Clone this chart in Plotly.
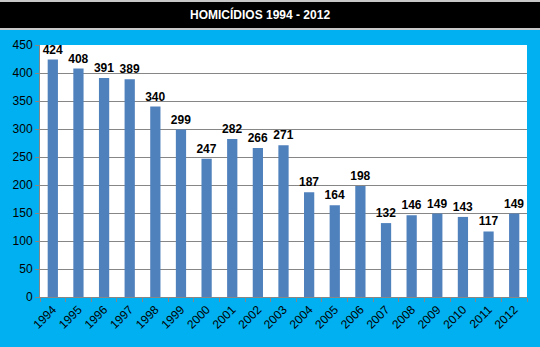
import plotly.graph_objects as go

years = ["1994","1995","1996","1997","1998","1999","2000","2001","2002","2003",
         "2004","2005","2006","2007","2008","2009","2010","2011","2012"]
values = [424, 408, 391, 389, 340, 299, 247, 282, 266, 271,
          187, 164, 198, 132, 146, 149, 143, 117, 149]
yticks = [0, 50, 100, 150, 200, 250, 300, 350, 400, 450]
title = "HOMICÍDIOS 1994 - 2012"

FONT = "Liberation Sans"

fig = go.Figure(go.Bar(
    x=years, y=values,
    marker=dict(color="#4F81BD", line=dict(width=0)),
    text=[str(v) for v in values],
    textposition="outside",
    constraintext="none",
    textfont=dict(family=FONT, size=12, color="black"),
    texttemplate="<b>%{text}</b>",
    cliponaxis=False,
))

fig.update_layout(
    width=540, height=347,
    margin=dict(l=40, r=13, t=45, b=50),
    paper_bgcolor="#00B0F0",
    plot_bgcolor="white",
    bargap=0.6,
    showlegend=False,
    font=dict(family=FONT, size=12, color="black"),
)

W, H = 487, 252
# black title band at the top
fig.add_shape(type="rect", xref="paper", yref="paper",
              x0=-40/W, x1=1+13/W, y0=1+17/H, y1=1+45/H,
              fillcolor="black", line=dict(width=0), layer="above")
fig.add_shape(type="rect", xref="paper", yref="paper",
              x0=-40/W, x1=1+13/W, y0=1+15/H, y1=1+17/H,
              fillcolor="#C8C8C8", line=dict(width=0), layer="above")
fig.add_shape(type="rect", xref="paper", yref="paper",
              x0=-40/W, x1=1+13/W, y0=1+43/H, y1=1+46/H,
              fillcolor="#C8C8C8", line=dict(width=0), layer="above")
fig.add_annotation(text="<b>" + title + "</b>", xref="paper", yref="paper",
                   x=(260-40)/W, y=1+31/H,
                   xanchor="center", yanchor="middle", showarrow=False,
                   font=dict(family=FONT, size=12, color="white"))

fig.update_xaxes(
    tickangle=-45,
    showline=True, linecolor="#868686", linewidth=1,
    ticks="outside", ticklen=4, tickcolor="#868686",
    tickson="boundaries",
    tickfont=dict(family=FONT, size=12, color="black"),
    showgrid=False,
)
fig.update_yaxes(
    range=[0, 450],
    tickvals=yticks,
    showline=True, linecolor="#868686", linewidth=1,
    ticks="outside", ticklen=4, tickcolor="#868686",
    gridcolor="#868686", gridwidth=1,
    tickfont=dict(family=FONT, size=12, color="black"),
    zeroline=False,
)

fig.write_html("out.html")
